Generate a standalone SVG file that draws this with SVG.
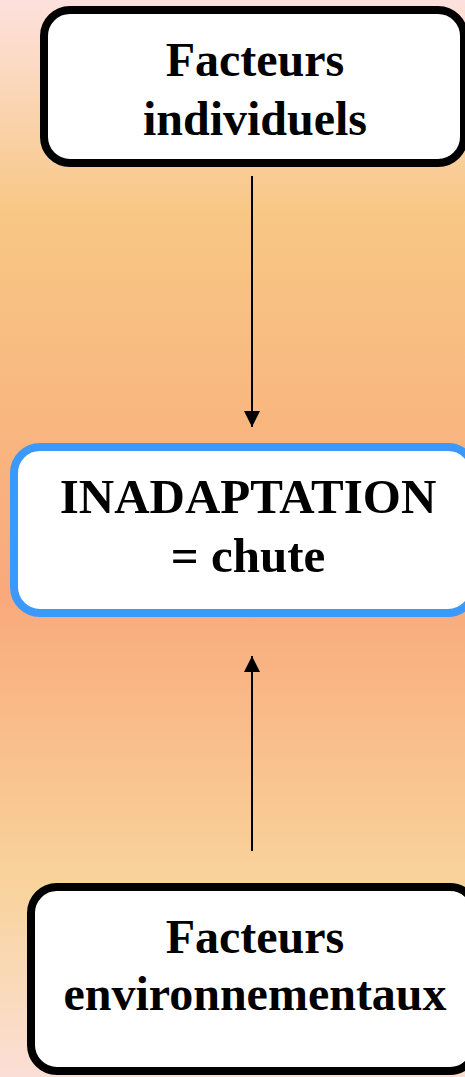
<svg xmlns="http://www.w3.org/2000/svg" width="465" height="1077" viewBox="0 0 465 1077">
  <defs>
    <linearGradient id="bg" x1="0" y1="0" x2="0" y2="1">
      <stop offset="0" stop-color="#fde1dd"/>
      <stop offset="0.2" stop-color="#f8c784"/>
      <stop offset="0.55" stop-color="#f9a97c"/>
      <stop offset="0.82" stop-color="#f9d39b"/>
      <stop offset="1" stop-color="#fbdfd6"/>
    </linearGradient>
    <marker id="arrow" viewBox="0 0 16 16" refX="16" refY="8" markerWidth="16" markerHeight="16" markerUnits="userSpaceOnUse" orient="auto">
      <path d="M0,0 L16,8 L0,16 Z" fill="#000"/>
    </marker>
    <style>
      .box { fill: #fff; stroke: #000; stroke-width: 8; }
      .box.main { stroke: #3a99fb; }
      .label { font-family: "Liberation Serif", "Times New Roman", serif; font-weight: bold; font-size: 48px; fill: #000; text-anchor: middle; }
      .label.main { font-size: 49px; }
      .edge { stroke: #000; stroke-width: 2; fill: none; marker-end: url(#arrow); }
    </style>
  </defs>

  <rect width="465" height="1077" fill="url(#bg)"/>

  <g id="connectors">
    <line class="edge" x1="252" y1="176" x2="252" y2="427"/>
    <line class="edge" x1="252" y1="851" x2="252" y2="656"/>
  </g>

  <g id="node-individuels">
    <rect class="box" x="44" y="10" width="420" height="153" rx="26"/>
    <text class="label" x="255" y="76">Facteurs</text>
    <text class="label" x="255" y="135">individuels</text>
  </g>

  <g id="node-inadaptation">
    <rect class="box main" x="14" y="447" width="460" height="166" rx="26"/>
    <text class="label main" x="248" y="513">INADAPTATION</text>
    <text class="label main" x="248" y="572">= chute</text>
  </g>

  <g id="node-environnementaux">
    <rect class="box" x="31" y="887" width="445" height="184" rx="26"/>
    <text class="label" x="255" y="953">Facteurs</text>
    <text class="label" x="255" y="1010">environnementaux</text>
  </g>
</svg>
